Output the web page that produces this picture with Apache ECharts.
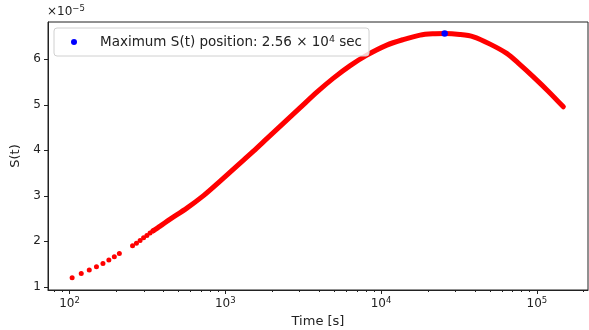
<!DOCTYPE html>
<html>
<head>
<meta charset="utf-8">
<script src="https://cdn.jsdelivr.net/npm/echarts@6/dist/echarts.min.js"></script>
<style>
  html, body { margin: 0; padding: 0; background: #fff; }
  #chart { width: 589px; height: 330px; }
</style>
</head>
<body>
<div id="chart"></div>
<script>
// Early samples (s), far enough apart on the log axis to show as separate dots
const sparseTime = [104, 119, 134, 149, 164, 179, 194, 209, 254, 269, 284, 299, 314, 329, 344];
// S(t) at those times, in units of 1e-5
const sparseS = [1.20, 1.29, 1.37, 1.44, 1.51, 1.59, 1.66, 1.73, 1.90, 1.96, 2.02, 2.08, 2.13, 2.18, 2.23];

// Later samples merge into a continuous band; these trace that band
const denseTime = [344, 382, 443, 567, 725, 927, 1186, 1517, 1849, 2366, 3027, 3873, 4947, 6337, 8110,
  10890, 13870, 17800, 21500, 25600, 32000, 39200, 50100, 64100, 77300, 95000, 118300, 148000];
const denseS = [2.23, 2.334, 2.488, 2.73, 3.004, 3.323, 3.653, 3.982, 4.257, 4.598, 4.938, 5.279, 5.587, 5.862, 6.092,
  6.312, 6.433, 6.532, 6.56, 6.565, 6.545, 6.495, 6.334, 6.13, 5.895, 5.615, 5.30, 4.956];

// Position and height of the maximum
const maxTime = 25600;
const maxS = 6.565;

// Axis ticks
const xMajorTicks = [100, 1000, 10000, 100000];
const xMinorTicks = [80, 90, 200, 300, 400, 500, 600, 700, 800, 900,
  2000, 3000, 4000, 5000, 6000, 7000, 8000, 9000,
  20000, 30000, 40000, 50000, 60000, 70000, 80000, 90000, 200000];
const yTicks = [1, 2, 3, 4, 5, 6];

const FONT = 'DejaVu Sans';
const INK = '#222';

const sparseData = sparseTime.map((t, i) => [t, sparseS[i]]);
const denseData = denseTime.map((t, i) => [t, denseS[i]]);

// "2.56 × 10{4}" style label for the maximum's position
const maxExp = Math.floor(Math.log10(maxTime));
const maxMant = (maxTime / Math.pow(10, maxExp)).toFixed(2);
const maxName = 'max';
const maxLabel = 'Maximum S(t) position: ' + maxMant + ' × 10{s|' + maxExp + '} sec';

const supRich = {
  b: { fontFamily: FONT, fontSize: 12, fontWeight: 'normal', color: INK, lineHeight: 16 },
  s: { fontFamily: FONT, fontSize: 8.5, fontWeight: 'normal', color: INK, verticalAlign: 'top', lineHeight: 10 }
};

const xRange = { min: 72.8, max: 213000 };

const chart = echarts.init(document.getElementById('chart'), null, { renderer: 'canvas' });
chart.setOption({
  animation: false,
  backgroundColor: '#fff',
  title: {
    text: '{b|×10}{s|−5}',
    left: 47,
    top: 4,
    padding: 0,
    textStyle: { fontWeight: 'normal', fontFamily: FONT, rich: supRich }
  },
  grid: {
    left: 48, right: 1, top: 22, bottom: 40,
    outerBoundsMode: 'none', containLabel: false,
    show: true, borderColor: INK, borderWidth: 1, backgroundColor: 'transparent'
  },
  legend: {
    data: [maxName],
    left: 54, top: 28,
    orient: 'horizontal',
    padding: [7, 7, 7, 17],
    itemWidth: 6, itemHeight: 6,
    icon: 'circle',
    itemStyle: { opacity: 1 },
    borderColor: '#d0d0d0', borderWidth: 1, borderRadius: 3,
    backgroundColor: 'rgba(255,255,255,0.8)',
    formatter: () => maxLabel,
    textStyle: {
      fontFamily: FONT, fontSize: 13.5, color: INK,
      padding: [0, 0, 0, 18],
      rich: {
        s: { fontFamily: FONT, fontSize: 9.5, color: INK, verticalAlign: 'top', lineHeight: 11 }
      }
    }
  },
  xAxis: [
    {
      type: 'log', logBase: 10, min: xRange.min, max: xRange.max,
      name: 'Time [s]', nameLocation: 'middle', nameGap: 25,
      nameTextStyle: { fontFamily: FONT, fontSize: 13, color: INK },
      axisLine: { show: true, lineStyle: { color: INK, width: 1 } },
      axisTick: { show: true, customValues: xMajorTicks, length: 4, lineStyle: { color: INK } },
      axisLabel: {
        customValues: xMajorTicks, margin: 6,
        formatter: v => '{b|10}{s|' + Math.round(Math.log10(v)) + '}',
        rich: supRich
      },
      splitLine: { show: false }, minorTick: { show: false }
    },
    {
      type: 'log', logBase: 10, min: xRange.min, max: xRange.max,
      gridIndex: 0, position: 'bottom',
      axisLine: { show: false },
      axisTick: { show: true, customValues: xMinorTicks, length: 2, lineStyle: { color: INK } },
      axisLabel: { show: false },
      splitLine: { show: false }
    }
  ],
  yAxis: {
    type: 'value', min: 0.93, max: 6.82,
    name: 'S(t)', nameLocation: 'middle', nameGap: 20, nameRotate: 90,
    nameTextStyle: { fontFamily: FONT, fontSize: 13, color: INK },
    axisLine: { show: true, lineStyle: { color: INK, width: 1 } },
    axisTick: { show: true, customValues: yTicks, length: 4, lineStyle: { color: INK } },
    axisLabel: {
      customValues: yTicks, margin: 7,
      fontFamily: FONT, fontSize: 12, color: INK,
      formatter: v => String(Math.round(v))
    },
    splitLine: { show: false }
  },
  series: [
    {
      name: 'dense', type: 'line', data: denseData, xAxisIndex: 0,
      showSymbol: false, smooth: 0.3, silent: true,
      lineStyle: { color: '#ff0000', width: 5, cap: 'round', join: 'round' },
      z: 2
    },
    {
      name: 'sparse', type: 'scatter', data: sparseData, xAxisIndex: 0,
      symbol: 'circle', symbolSize: 5,
      itemStyle: { color: '#ff0000', opacity: 1 },
      z: 2
    },
    {
      name: maxName, type: 'scatter', data: [[maxTime, maxS]], xAxisIndex: 0,
      symbol: 'circle', symbolSize: 6.5,
      itemStyle: { color: '#0000ff', opacity: 1 },
      z: 5
    }
  ]
});
</script>
</body>
</html>
